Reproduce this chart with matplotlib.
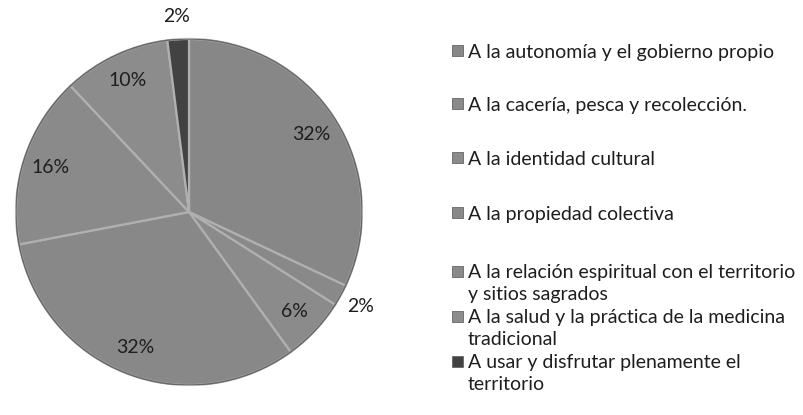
import numpy as np
import matplotlib
matplotlib.use("Agg")
import matplotlib.pyplot as plt
from matplotlib.patches import Rectangle, Circle

categories = [
    "A la autonomía y el gobierno propio",
    "A la cacería, pesca y recolección.",
    "A la identidad cultural",
    "A la propiedad colectiva",
    "A la relación espiritual con el territorio\ny sitios sagrados",
    "A la salud y la práctica de la medicina\ntradicional",
    "A usar y disfrutar plenamente el\nterritorio",
]
values = [32, 2, 6, 32, 16, 10, 2]
colors = ["#878787", "#898989", "#8b8b8b", "#888888", "#8a8a8a", "#8c8c8c", "#424242"]

plt.rcParams['font.family'] = ['Lato', 'DejaVu Sans']

fig = plt.figure(figsize=(8.04, 4.15), dpi=100)
fig.patch.set_facecolor("white")
ax = fig.add_axes([16/804, 30/415, 346/804, 346/415])
wedges, _ = ax.pie(values, colors=colors, startangle=90, counterclock=False,
                   radius=1.0,
                   wedgeprops=dict(edgecolor="#b0b0b0", linewidth=1.6))
ax.add_patch(Circle((0, 0), 1.0, fill=False, edgecolor="#666666", linewidth=1.0))
ax.set_xlim(-1, 1)
ax.set_ylim(-1, 1)
ax.axis("off")

for w, v in zip(wedges, values):
    th = np.deg2rad((w.theta1 + w.theta2) / 2)
    r = 0.84 if v >= 5 else 1.13
    ax.text(r * np.cos(th), r * np.sin(th), f"{v}%", ha="center", va="center",
            fontsize=14, color="#1e1e1e")

# legend (manual)
row_y = [51, 104, 158, 213, 271, 316, 361]
for lab, c, y in zip(categories, colors, row_y):
    fy = 1 - y / 415
    fig.patches.append(Rectangle((452/804, fy - 5.5/415), 11/804, 11/415,
                                 transform=fig.transFigure, facecolor=c,
                                 edgecolor="#666666", linewidth=0.6))
    for k, line in enumerate(lab.split("\n")):
        fig.text(468/804, fy - (k * 22) / 415, line, ha="left", va="center_baseline",
                 fontsize=14, color="#1e1e1e")

fig.savefig("out.png", dpi=100, facecolor="white")
